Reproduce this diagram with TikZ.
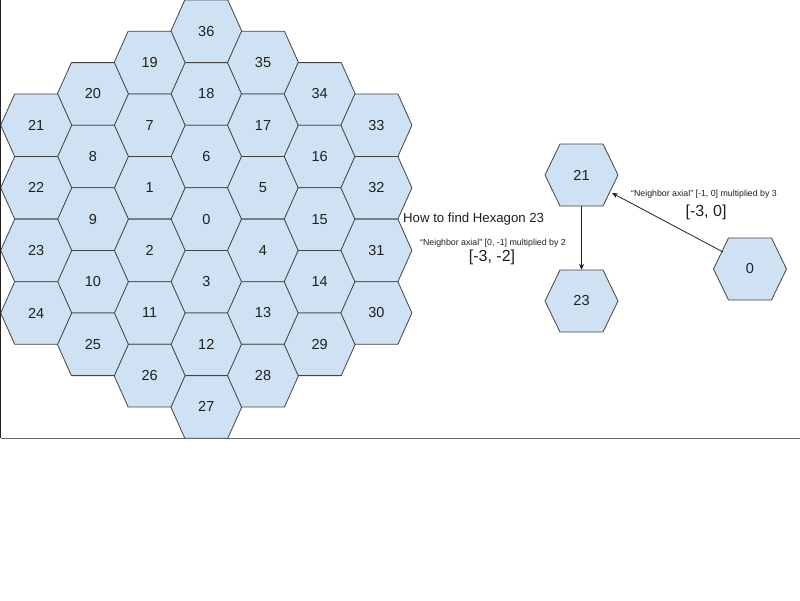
\documentclass[tikz,border=0pt]{standalone}
\usepackage{fontspec}
\setmainfont{Liberation Sans}
\usetikzlibrary{arrows.meta,calc}
\definecolor{hexfill}{HTML}{CFE2F3}
\definecolor{hexline}{HTML}{434343}
\definecolor{textc}{HTML}{1F1F1F}
\definecolor{frameL}{HTML}{222222}
\definecolor{frameB}{HTML}{666666}
\tikzset{
  hexshape/.style={fill=hexfill, draw=hexline, line width=0.8pt, line join=miter},
  hexlabel/.style={font=\fontsize{14.5}{17}\selectfont, text=textc, inner sep=0pt,
                   minimum width=71pt, minimum height=62pt},
  smalltxt/.style={font=\fontsize{8.8}{10}\selectfont, text=textc, inner sep=0pt},
  bigtxt/.style={font=\fontsize{16}{19}\selectfont, text=textc, inner sep=0pt},
  titletxt/.style={font=\fontsize{13.2}{16}\selectfont, text=textc, inner sep=0pt, anchor=west},
  conn/.style={draw=textc, line width=0.8pt, -{Stealth[length=6pt,width=5pt]}},
}
% grid cell: name, column, row-step, text
\newcommand\hexcell[4]{%
  \path[hexshape] ({206.3+56.7*(#2)},{31.3*((#3)+1)})
     +(-35.5,0) -- +(-21.5,-31.3) -- +(21.5,-31.3) -- +(35.5,0)
     -- +(21.5,31.3) -- +(-21.5,31.3) -- cycle;
  \node[hexlabel] (#1) at ({206.3+56.7*(#2)},{31.3*((#3)+1)}) {#4};
}
% free cell: name, x, y, text
\newcommand\hexfree[4]{%
  \path[hexshape] (#2,#3)
     +(-36.5,0) -- +(-21.5,-31) -- +(21.5,-31) -- +(36.5,0)
     -- +(21.5,31) -- +(-21.5,31) -- cycle;
  \node[hexlabel, minimum width=73pt] (#1) at (#2,#3) {#4};
}
\begin{document}
\begin{tikzpicture}[x=1pt,y=-1pt]
\useasboundingbox (0,0) rectangle (800,600);
\fill[white] (0,0) rectangle (800,600);
% column 0
\hexcell{g36}{0}{0}{36}
\hexcell{g18}{0}{2}{18}
\hexcell{g6}{0}{4}{6}
\hexcell{g0}{0}{6}{0}
\hexcell{g3}{0}{8}{3}
\hexcell{g12}{0}{10}{12}
\hexcell{g27}{0}{12}{27}
% column -1
\hexcell{g19}{-1}{1}{19}
\hexcell{g7}{-1}{3}{7}
\hexcell{g1}{-1}{5}{1}
\hexcell{g2}{-1}{7}{2}
\hexcell{g11}{-1}{9}{11}
\hexcell{g26}{-1}{11}{26}
% column 1
\hexcell{g35}{1}{1}{35}
\hexcell{g17}{1}{3}{17}
\hexcell{g5}{1}{5}{5}
\hexcell{g4}{1}{7}{4}
\hexcell{g13}{1}{9}{13}
\hexcell{g28}{1}{11}{28}
% column -2
\hexcell{g20}{-2}{2}{20}
\hexcell{g8}{-2}{4}{8}
\hexcell{g9}{-2}{6}{9}
\hexcell{g10}{-2}{8}{10}
\hexcell{g25}{-2}{10}{25}
% column 2
\hexcell{g34}{2}{2}{34}
\hexcell{g16}{2}{4}{16}
\hexcell{g15}{2}{6}{15}
\hexcell{g14}{2}{8}{14}
\hexcell{g29}{2}{10}{29}
% column -3
\hexcell{g21}{-3}{3}{21}
\hexcell{g22}{-3}{5}{22}
\hexcell{g23}{-3}{7}{23}
\hexcell{g24}{-3}{9}{24}
% column 3
\hexcell{g33}{3}{3}{33}
\hexcell{g32}{3}{5}{32}
\hexcell{g31}{3}{7}{31}
\hexcell{g30}{3}{9}{30}
% frame lines
\coordinate (ftop) at (0.6,0);
\coordinate (fcorner) at (0.6,438.3);
\coordinate (fright) at (800,438.3);
\draw[frameB, line width=1.2pt] (fcorner) -- (fright);
\draw[frameL, line width=1.2pt] (ftop) -- (fcorner);
% right hexagons
\hexfree{r21}{581.5}{175}{21}
\hexfree{r23}{581.5}{301}{23}
\hexfree{r0}{750}{269}{0}
% texts
\node[titletxt] (title) at (403,219) {How to find Hexagon 23};
\node[smalltxt] (lab1) at (493,243) {“Neighbor axial” [0, -1] multiplied by 2};
\node[bigtxt] (val1) at (492,257) {[-3, -2]};
\node[smalltxt] (lab2) at (704,194) {“Neighbor axial” [-1, 0] multiplied by 3};
\node[bigtxt] (val2) at (706,212) {[-3, 0]};
% connectors
\draw[conn] (r21.south) -- (r23.north);
\draw[conn] ($(r0.center)+(-27,-17)$) -- ($(r21.center)+(30.5,18)$);
\end{tikzpicture}
\end{document}
